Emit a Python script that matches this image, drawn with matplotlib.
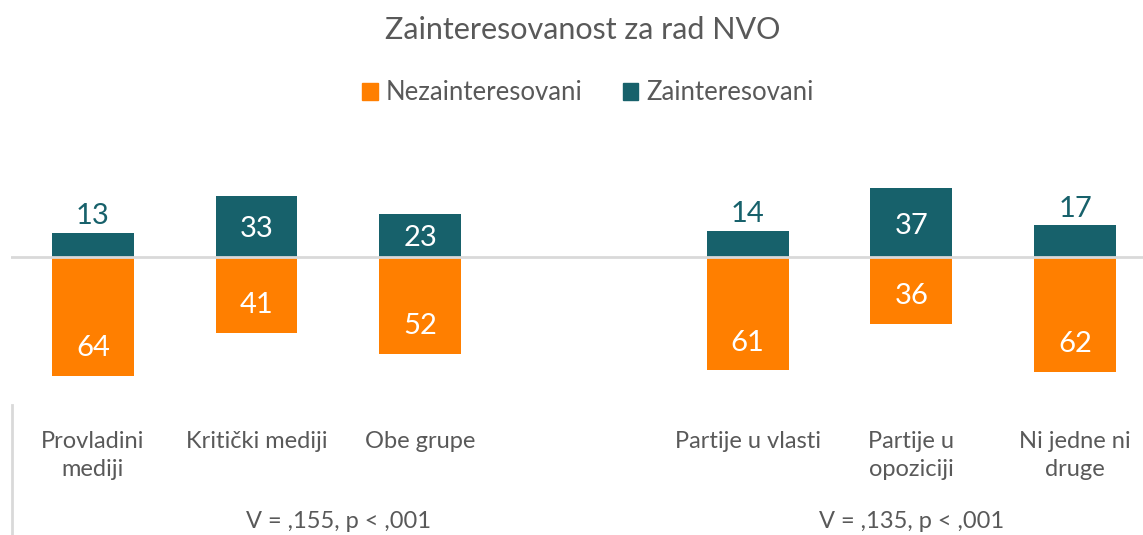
import numpy as np
import matplotlib
matplotlib.use('Agg')
import matplotlib.pyplot as plt
from matplotlib.lines import Line2D

plt.rcParams['font.family'] = ['Lato', 'DejaVu Sans']

categories = ['Provladini\nmediji', 'Kritički mediji', 'Obe grupe', '',
              'Partije u vlasti', 'Partije u\nopoziciji', 'Ni jedne ni\ndruge']
not_interested = [64, 41, 52, None, 61, 36, 62]
interested = [13, 33, 23, None, 14, 37, 17]
group_labels = ['V = ,155, p < ,001', 'V = ,135, p < ,001']
group_centers = [1.5, 5]

ORANGE = '#FF7F00'
TEAL = '#17616B'
GREY = '#595959'

W, H = 1143, 535
fig = plt.figure(figsize=(W / 100, H / 100), dpi=100)

# axes placed in pixel terms: slot width ~163.7 px, zero line at y=257, 1.86 px/unit
slot = 163.7
ppu = 1.86
left_px = 11
ymin, ymax = -75, 45
ax_top = 257 - ymax * ppu
ax_bot = 257 - ymin * ppu
ax = fig.add_axes([left_px / W, 1 - ax_bot / H, (W - left_px) / W, (ax_bot - ax_top) / H])
ax.set_xlim(-0.5, -0.5 + (W - left_px) / slot)
ax.set_ylim(ymin, ymax)

x = np.arange(len(categories))
for i in x:
    if interested[i] is None:
        continue
    ni, zi = not_interested[i], interested[i]
    ax.bar(i, -ni, width=0.5, color=ORANGE, zorder=2)
    ax.bar(i, zi, width=0.5, color=TEAL, zorder=2)
    ax.text(i, -ni + 15, f'{ni}', ha='center', va='center', color='white', fontsize=21)
    if zi >= 20:
        ax.text(i, zi * 0.45, f'{zi}', ha='center', va='center', color='white', fontsize=21)
    else:
        ax.text(i, zi + 9, f'{zi}', ha='center', va='center', color=TEAL, fontsize=21)

ax.axhline(0, color='#D9D9D9', lw=2, zorder=3)
for s in ax.spines.values():
    s.set_visible(False)
ax.set_xticks([])
ax.set_yticks([])

# category labels below the plot
for i, lab in enumerate(categories):
    xf = (left_px + (i + 0.5) * slot) / W
    fig.text(xf, 1 - 431 / H, lab, ha='center', va='top', color=GREY,
             fontsize=17, linespacing=1.42)
for gx, gl in zip(group_centers, group_labels):
    xf = (left_px + (gx + 0.5) * slot) / W
    fig.text(xf, 1 - 522 / H, gl, ha='center', va='center', color=GREY, fontsize=17)

fig.add_artist(Line2D([12 / W, 12 / W], [0, 1 - 405 / H], color='#D9D9D9', lw=2,
                      transform=fig.transFigure))

fig.text(583 / W, 1 - 30 / H, 'Zainteresovanost za rad NVO', ha='center', va='center',
         color=GREY, fontsize=22)

handles = [plt.Rectangle((0, 0), 1, 1, color=ORANGE), plt.Rectangle((0, 0), 1, 1, color=TEAL)]
fig.legend(handles, ['Nezainteresovani', 'Zainteresovani'], loc='center',
           bbox_to_anchor=(588 / W, 1 - 93 / H), ncol=2, frameon=False,
           fontsize=18.5, labelcolor=GREY, handlelength=0.6, handleheight=0.6,
           handletextpad=0.32, columnspacing=1.55)

fig.savefig('out.png', dpi=100)
